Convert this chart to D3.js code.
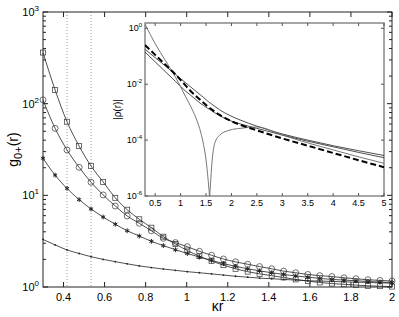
<!DOCTYPE html>
<html>
<head>
<meta charset="utf-8">
<script src="https://cdn.jsdelivr.net/npm/d3@7"></script>
<style>
  body { margin: 0; background: #fff; }
  svg { font-family: "Liberation Sans", Arial, sans-serif; }
</style>
</head>
<body>
<div id="chart"></div>
<script>
//===============================
//  Data
//===============================

// kappa*r sample points of the main panel
var kr = [0.3, 0.359, 0.417, 0.476, 0.534, 0.593, 0.652, 0.710, 0.769, 0.828,
          0.886, 0.945, 1.003, 1.062, 1.121, 1.179, 1.238, 1.297, 1.355, 1.414,
          1.472, 1.531, 1.590, 1.648, 1.707, 1.766, 1.824, 1.883, 1.941, 2.0];

var gSquares = [361, 141, 63.5, 34.5, 20.9, 14.0, 9.4, 6.97, 5.48, 4.44,
                3.54, 2.95, 2.5, 2.17, 1.92, 1.73, 1.58, 1.47, 1.39, 1.33,
                1.27, 1.21, 1.16, 1.12, 1.09, 1.07, 1.05, 1.03, 1.02, 1.01];

var gCircles = [110, 53.8, 31.3, 20.2, 13.9, 10.1, 7.65, 5.95, 4.95, 4.11,
                3.4, 3.05, 2.75, 2.45, 2.22, 2.02, 1.88, 1.77, 1.67, 1.58,
                1.49, 1.43, 1.37, 1.33, 1.3, 1.26, 1.23, 1.2, 1.18, 1.16];

var gStars = [25.4, 16.6, 11.9, 8.98, 7.1, 5.8, 4.84, 4.11, 3.6, 3.15,
              2.83, 2.55, 2.32, 2.12, 1.95, 1.8, 1.68, 1.58, 1.5, 1.43,
              1.37, 1.32, 1.28, 1.24, 1.21, 1.19, 1.17, 1.15, 1.13, 1.12];

var gDots = [3.3, 2.88, 2.54, 2.32, 2.14, 2.0, 1.89, 1.79, 1.7, 1.63,
             1.57, 1.52, 1.47, 1.43, 1.39, 1.35, 1.31, 1.28, 1.25, 1.23,
             1.21, 1.19, 1.17, 1.16, 1.15, 1.14, 1.13, 1.12, 1.11, 1.1];

var markLines = [0.417, 0.534];

var xTicks = [0.4, 0.6, 0.8, 1, 1.2, 1.4, 1.6, 1.8, 2];
var yDecades = [0, 1, 2, 3];

// inset |rho(r)|, values as log10
var insetR = [0.3, 0.5, 0.7, 0.9, 1.1, 1.2, 1.3, 1.4, 1.45, 1.5, 1.53, 1.56, 1.57,
              1.58, 1.61, 1.67, 1.77, 1.97, 2.17, 2.5, 3, 3.5, 4, 4.5, 5];
var rhoA = [-0.75, -1.05, -1.35, -1.65, -1.95, -2.1, -2.25, -2.4, -2.47, -2.55, -2.6, -2.64, -2.66,
            -2.67, -2.71, -2.79, -2.92, -3.12, -3.28, -3.5, -3.78, -4.0, -4.2, -4.38, -4.55];
var rhoB = [-0.85, -1.2, -1.55, -1.9, -2.25, -2.4, -2.55, -2.7, -2.76, -2.82, -2.86, -2.89, -2.9,
            -2.91, -2.95, -3.02, -3.13, -3.3, -3.42, -3.58, -3.82, -4.04, -4.24, -4.44, -4.63];
var rhoC = [0.15, -0.55, -1.15, -1.75, -2.45, -2.8, -3.2, -3.75, -4.15, -4.7, -5.2, -5.8, -6,
            -5.8, -4.95, -4.12, -3.82, -3.64, -3.58, -3.53, -3.82, -4.1, -4.35, -4.6, -4.83];
var rhoDashed = [-0.6, -0.95, -1.3, -1.65, -2.05, -2.25, -2.42, -2.58, -2.66, -2.74, -2.79, -2.83, -2.85,
                 -2.86, -2.9, -2.98, -3.1, -3.3, -3.45, -3.65, -3.94, -4.2, -4.46, -4.72, -4.97];

var insetXTicks = [0.5, 1, 1.5, 2, 2.5, 3, 3.5, 4, 4.5, 5];
var insetYDecades = [0, -2, -4, -6];

//===============================
//  Set up SVG
//===============================
var svgWidth = 399, svgHeight = 317;
var svg = d3.select("#chart").append("svg")
  .attr("width", svgWidth).attr("height", svgHeight);

var plot = { left: 43, right: 392, top: 12, bottom: 287 };

var x = d3.scaleLinear().domain([0.3, 2]).range([plot.left, plot.right]);
var y = d3.scaleLog().domain([1, 1000]).range([plot.bottom, plot.top]);

// dotted guide lines
svg.selectAll(".guide").data(markLines).enter().append("line")
  .attr("x1", d => x(d)).attr("x2", d => x(d))
  .attr("y1", plot.top).attr("y2", plot.bottom)
  .attr("stroke", "#999").attr("stroke-width", 1)
  .attr("stroke-dasharray", "1,2");

// box
svg.append("rect")
  .attr("x", plot.left).attr("y", plot.top)
  .attr("width", plot.right - plot.left).attr("height", plot.bottom - plot.top)
  .attr("fill", "none").attr("stroke", "#222").attr("stroke-width", 1);

// x ticks (inside, bottom and top)
var xt = d3.range(0.4, 2.01, 0.2);
xt.forEach(function(t) {
  svg.append("line").attr("x1", x(t)).attr("x2", x(t))
    .attr("y1", plot.bottom).attr("y2", plot.bottom - 5).attr("stroke", "#222");
  svg.append("line").attr("x1", x(t)).attr("x2", x(t))
    .attr("y1", plot.top).attr("y2", plot.top + 5).attr("stroke", "#222");
});
svg.selectAll(".xlab").data(xTicks).enter().append("text")
  .attr("x", d => x(d)).attr("y", plot.bottom + 14)
  .attr("text-anchor", "middle").attr("font-size", 11)
  .text(d => d);

// y ticks (log)
var yMinor = [];
for (var dec = 0; dec < 3; dec++) {
  for (var m = 2; m <= 9; m++) yMinor.push(m * Math.pow(10, dec));
}
yMinor.forEach(function(v) {
  svg.append("line").attr("x1", plot.left).attr("x2", plot.left + 3)
    .attr("y1", y(v)).attr("y2", y(v)).attr("stroke", "#222");
  svg.append("line").attr("x1", plot.right).attr("x2", plot.right - 3)
    .attr("y1", y(v)).attr("y2", y(v)).attr("stroke", "#222");
});
yDecades.forEach(function(p) {
  var v = Math.pow(10, p);
  svg.append("line").attr("x1", plot.left).attr("x2", plot.left + 5)
    .attr("y1", y(v)).attr("y2", y(v)).attr("stroke", "#222");
  svg.append("line").attr("x1", plot.right).attr("x2", plot.right - 5)
    .attr("y1", y(v)).attr("y2", y(v)).attr("stroke", "#222");
  var t = svg.append("text").attr("x", plot.left - 4).attr("y", y(v) + 4)
    .attr("text-anchor", "end").attr("font-size", 11);
  t.append("tspan").text("10");
  t.append("tspan").attr("dy", -5).attr("font-size", 8).text(p);
});

// axis titles
svg.append("text").attr("x", x(1.15)).attr("y", 311)
  .attr("text-anchor", "middle").attr("font-size", 14).text("κr");
var yl = svg.append("text")
  .attr("transform", "translate(18," + (plot.top + plot.bottom) / 2 + ") rotate(-90)")
  .attr("text-anchor", "middle").attr("font-size", 14);
yl.append("tspan").text("g");
yl.append("tspan").attr("dy", 4).attr("font-size", 11).text("0+");
yl.append("tspan").attr("dy", -4).text("(r)");

//===============================
//  Main series
//===============================
function series(vals) { return vals.map((v, i) => ({ x: kr[i], y: v })); }
var line = d3.line().x(d => x(d.x)).y(d => y(d.y)).curve(d3.curveMonotoneX);

[gSquares, gCircles, gStars, gDots].forEach(function(vals) {
  svg.append("path").datum(series(vals))
    .attr("d", line).attr("fill", "none")
    .attr("stroke", "#222").attr("stroke-width", 0.8);
});

svg.selectAll(".sq").data(series(gSquares)).enter().append("rect")
  .attr("x", d => x(d.x) - 2.5).attr("y", d => y(d.y) - 2.5)
  .attr("width", 5).attr("height", 5)
  .attr("fill", "none").attr("stroke", "#333").attr("stroke-width", 0.7);

svg.selectAll(".ci").data(series(gCircles)).enter().append("circle")
  .attr("cx", d => x(d.x)).attr("cy", d => y(d.y)).attr("r", 3)
  .attr("fill", "none").attr("stroke", "#333").attr("stroke-width", 0.7);

svg.selectAll(".st").data(series(gStars)).enter().append("path")
  .attr("transform", d => "translate(" + x(d.x) + "," + y(d.y) + ")")
  .attr("d", d3.symbol().type(d3.symbolAsterisk || d3.symbolCross).size(16))
  .attr("fill", "#222").attr("stroke", "#222").attr("stroke-width", 1);

svg.selectAll(".dt").data(series(gDots)).enter().append("circle")
  .attr("cx", d => x(d.x)).attr("cy", d => y(d.y)).attr("r", 0.9)
  .attr("fill", "#222");

//===============================
//  Inset
//===============================
var inset = { left: 145, right: 384, top: 23, bottom: 196 };
var ix = d3.scaleLinear().domain([0.3, 5]).range([inset.left, inset.right]);
var iy = d3.scaleLinear().domain([-6, 0.19]).range([inset.bottom, inset.top]);

svg.append("rect")
  .attr("x", inset.left).attr("y", inset.top)
  .attr("width", inset.right - inset.left).attr("height", inset.bottom - inset.top)
  .attr("fill", "#fff").attr("stroke", "#888").attr("stroke-width", 1.5);

insetXTicks.forEach(function(t) {
  svg.append("line").attr("x1", ix(t)).attr("x2", ix(t))
    .attr("y1", inset.bottom).attr("y2", inset.bottom - 3).attr("stroke", "#555");
  svg.append("line").attr("x1", ix(t)).attr("x2", ix(t))
    .attr("y1", inset.top).attr("y2", inset.top + 3).attr("stroke", "#555");
  svg.append("text").attr("x", ix(t)).attr("y", inset.bottom + 10)
    .attr("text-anchor", "middle").attr("font-size", 9).text(t);
});
insetYDecades.forEach(function(p) {
  svg.append("line").attr("x1", inset.left).attr("x2", inset.left + 3)
    .attr("y1", iy(p)).attr("y2", iy(p)).attr("stroke", "#555");
  svg.append("line").attr("x1", inset.right).attr("x2", inset.right - 3)
    .attr("y1", iy(p)).attr("y2", iy(p)).attr("stroke", "#555");
  var t = svg.append("text").attr("x", inset.left - 3).attr("y", iy(p) + 3)
    .attr("text-anchor", "end").attr("font-size", 9);
  t.append("tspan").text("10");
  t.append("tspan").attr("dy", -4).attr("font-size", 6).text(p);
});
svg.append("text")
  .attr("transform", "translate(121," + (inset.top + inset.bottom) / 2 + ") rotate(-90)")
  .attr("text-anchor", "middle").attr("font-size", 10).text("|ρ(r)|");

var iline = d3.line().x(d => ix(d.x)).y(d => iy(d.y)).curve(d3.curveMonotoneX);
function iseries(vals) { return vals.map((v, i) => ({ x: insetR[i], y: v })); }

var clip = svg.append("clipPath").attr("id", "iclip").append("rect")
  .attr("x", inset.left).attr("y", inset.top)
  .attr("width", inset.right - inset.left).attr("height", inset.bottom - inset.top);
var ig = svg.append("g").attr("clip-path", "url(#iclip)");

ig.append("path").datum(iseries(rhoA)).attr("d", iline)
  .attr("fill", "none").attr("stroke", "#222").attr("stroke-width", 0.8);
ig.append("path").datum(iseries(rhoB)).attr("d", iline)
  .attr("fill", "none").attr("stroke", "#222").attr("stroke-width", 0.8);
ig.append("path").datum(iseries(rhoC)).attr("d", iline)
  .attr("fill", "none").attr("stroke", "#666").attr("stroke-width", 0.9);
ig.append("path").datum(iseries(rhoDashed)).attr("d", iline)
  .attr("fill", "none").attr("stroke", "#000").attr("stroke-width", 2)
  .attr("stroke-dasharray", "6,3");
</script>
</body>
</html>
